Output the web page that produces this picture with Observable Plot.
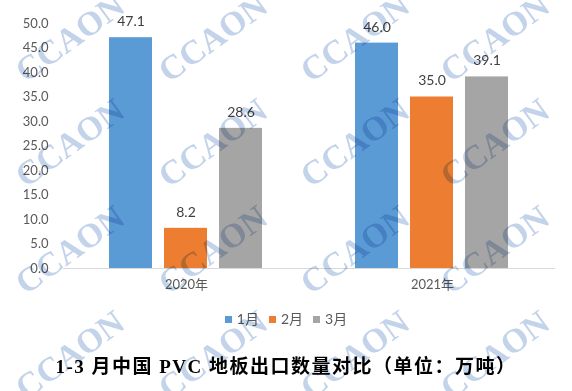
<!DOCTYPE html>
<html><head><meta charset="utf-8">
<script src="https://cdn.jsdelivr.net/npm/d3@7"></script>
<script src="https://cdn.jsdelivr.net/npm/@observablehq/plot@0.6"></script>
<style>
body{margin:0;background:#fff;}
#wrap{position:relative;width:572px;height:391px;overflow:hidden;background:#fff;font-family:Lato,"Noto Sans CJK SC",sans-serif;}
#chart{position:absolute;left:0;top:0;}
#legend{position:absolute;left:0;top:311px;width:572px;display:flex;justify-content:center;align-items:center;font-size:14px;color:#595959;line-height:16px;}
#legend .item{display:flex;align-items:center;margin:0 5px;}
#legend .sw{width:7px;height:7px;margin-right:5px;}
#title{position:absolute;left:0;top:355px;width:572px;text-align:center;font-family:"Liberation Serif","Noto Sans CJK SC",serif;font-weight:bold;font-size:19px;letter-spacing:1.5px;color:#000;line-height:24px;}
.wm{position:absolute;font-family:"Liberation Serif",serif;font-weight:bold;font-size:34px;color:#c3d3ea;transform:translate(-50%,-50%) rotate(-36deg);mix-blend-mode:multiply;white-space:nowrap;pointer-events:none;line-height:34px;}
</style></head><body><div id="wrap"><div id="chart"></div><div id="legend"></div><div id="title"></div></div>
<script>
const years = ["2020年", "2021年"];
const months = ["1月", "2月", "3月"];
const v2020 = [47.1, 8.2, 28.6];
const v2021 = [46.0, 35.0, 39.1];
const colors = ["#5B9BD5", "#ED7D31", "#A5A5A5"];
const yTicks = [0, 5, 10, 15, 20, 25, 30, 35, 40, 45, 50];
const titleText = "1-3 月中国 PVC 地板出口数量对比（单位：万吨）";
const watermarkText = "CCAON";

const data = [];
months.forEach((m, i) => data.push({year: years[0], month: m, value: v2020[i]}));
months.forEach((m, i) => data.push({year: years[1], month: m, value: v2021[i]}));

const chart = Plot.plot({
  width: 572, height: 300,
  marginLeft: 62, marginRight: 17, marginTop: 23, marginBottom: 32,
  style: {fontFamily: 'Lato, "Noto Sans CJK SC", sans-serif', fontSize: "13px", color: "#595959", background: "transparent", overflow: "visible"},
  fx: {domain: years, padding: 0, label: null, axis: "bottom", tickSize: 0, tickPadding: 11},
  x: {domain: months, axis: null, paddingInner: 0.218, paddingOuter: 0.845},
  y: {domain: [0, 50], ticks: yTicks, tickFormat: d => d.toFixed(1), tickSize: 0, tickPadding: 15, label: null},
  color: {domain: months, range: colors},
  marks: [
    Plot.ruleY([0], {stroke: "#d9d9d9", strokeWidth: 1}),
    Plot.barY(data, {fx: "year", x: "month", y: "value", fill: "month"}),
    Plot.text(data, {fx: "year", x: "month", y: "value", text: d => d.value.toFixed(1), dy: -16, fill: "#404040", fontSize: 14})
  ]
});
document.getElementById("chart").appendChild(chart);

const legend = document.getElementById("legend");
months.forEach((m, i) => {
  const it = document.createElement("div"); it.className = "item";
  const sw = document.createElement("span"); sw.className = "sw"; sw.style.background = colors[i];
  const t = document.createElement("span"); t.textContent = m;
  it.appendChild(sw); it.appendChild(t); legend.appendChild(it);
});
document.getElementById("title").textContent = titleText;

const wrap = document.getElementById("wrap");
[70, 213, 355, 495].forEach(x => [38, 143, 250, 355].forEach(y => {
  const w = document.createElement("div"); w.className = "wm";
  w.style.left = x + "px"; w.style.top = y + "px"; w.textContent = watermarkText;
  wrap.appendChild(w);
}));
</script></body></html>
